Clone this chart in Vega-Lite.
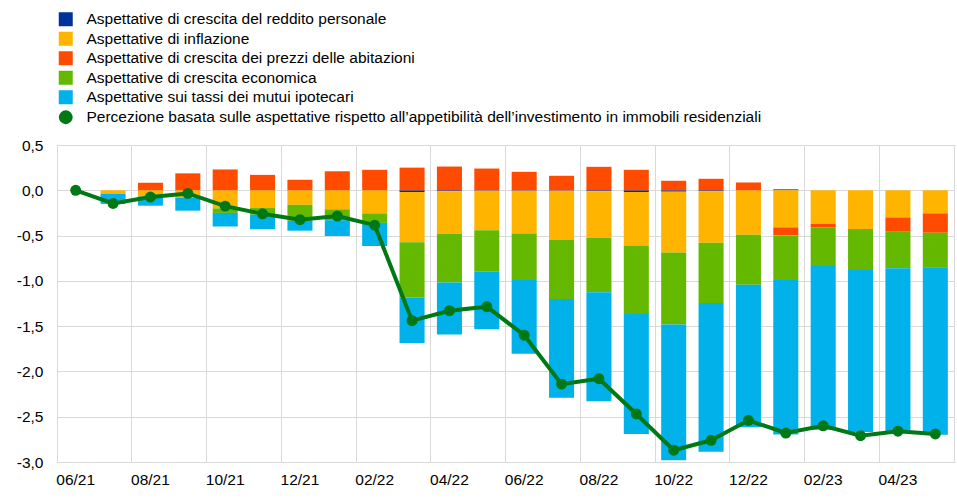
{
  "$schema": "https://vega.github.io/schema/vega-lite/v6.json",
  "width": 897,
  "height": 317,
  "autosize": {"type": "none"},
  "padding": {"left": 57, "top": 145, "right": 3, "bottom": 41},
  "background": "white",
  "config": {
    "view": {"stroke": "#d9d9d9", "strokeWidth": 1},
    "font": "Liberation Sans",
    "axis": {"labelFont": "Liberation Sans", "labelFontSize": 15.5, "labelColor": "#000000", "gridColor": "#d9d9d9", "gridWidth": 1, "ticks": false, "domain": false, "title": null},
    "legend": {"labelFont": "Liberation Sans", "labelFontSize": 15.5, "labelColor": "#000000", "labelLimit": 900}
  },
  "datasets": {
    "componenti": [
      {"mese": "06/21", "serie": "Aspettative di crescita del reddito personale", "ord": 1, "valore": 0},
      {"mese": "06/21", "serie": "Aspettative di inflazione", "ord": 2, "valore": 0},
      {"mese": "06/21", "serie": "Aspettative di crescita dei prezzi delle abitazioni", "ord": 3, "valore": 0},
      {"mese": "06/21", "serie": "Aspettative di crescita economica", "ord": 4, "valore": 0},
      {"mese": "06/21", "serie": "Aspettative sui tassi dei mutui ipotecari", "ord": 5, "valore": 0},
      {"mese": "07/21", "serie": "Aspettative di crescita del reddito personale", "ord": 1, "valore": 0},
      {"mese": "07/21", "serie": "Aspettative di inflazione", "ord": 2, "valore": -0.04},
      {"mese": "07/21", "serie": "Aspettative di crescita dei prezzi delle abitazioni", "ord": 3, "valore": 0},
      {"mese": "07/21", "serie": "Aspettative di crescita economica", "ord": 4, "valore": 0},
      {"mese": "07/21", "serie": "Aspettative sui tassi dei mutui ipotecari", "ord": 5, "valore": -0.11},
      {"mese": "08/21", "serie": "Aspettative di crescita del reddito personale", "ord": 1, "valore": 0},
      {"mese": "08/21", "serie": "Aspettative di inflazione", "ord": 2, "valore": -0.07},
      {"mese": "08/21", "serie": "Aspettative di crescita dei prezzi delle abitazioni", "ord": 3, "valore": 0.083},
      {"mese": "08/21", "serie": "Aspettative di crescita economica", "ord": 4, "valore": 0},
      {"mese": "08/21", "serie": "Aspettative sui tassi dei mutui ipotecari", "ord": 5, "valore": -0.1},
      {"mese": "09/21", "serie": "Aspettative di crescita del reddito personale", "ord": 1, "valore": 0},
      {"mese": "09/21", "serie": "Aspettative di inflazione", "ord": 2, "valore": -0.08},
      {"mese": "09/21", "serie": "Aspettative di crescita dei prezzi delle abitazioni", "ord": 3, "valore": 0.185},
      {"mese": "09/21", "serie": "Aspettative di crescita economica", "ord": 4, "valore": 0.005},
      {"mese": "09/21", "serie": "Aspettative sui tassi dei mutui ipotecari", "ord": 5, "valore": -0.145},
      {"mese": "10/21", "serie": "Aspettative di crescita del reddito personale", "ord": 1, "valore": 0},
      {"mese": "10/21", "serie": "Aspettative di inflazione", "ord": 2, "valore": -0.2},
      {"mese": "10/21", "serie": "Aspettative di crescita dei prezzi delle abitazioni", "ord": 3, "valore": 0.23},
      {"mese": "10/21", "serie": "Aspettative di crescita economica", "ord": 4, "valore": -0.05},
      {"mese": "10/21", "serie": "Aspettative sui tassi dei mutui ipotecari", "ord": 5, "valore": -0.15},
      {"mese": "11/21", "serie": "Aspettative di crescita del reddito personale", "ord": 1, "valore": 0},
      {"mese": "11/21", "serie": "Aspettative di inflazione", "ord": 2, "valore": -0.196},
      {"mese": "11/21", "serie": "Aspettative di crescita dei prezzi delle abitazioni", "ord": 3, "valore": 0.17},
      {"mese": "11/21", "serie": "Aspettative di crescita economica", "ord": 4, "valore": -0.074},
      {"mese": "11/21", "serie": "Aspettative sui tassi dei mutui ipotecari", "ord": 5, "valore": -0.16},
      {"mese": "12/21", "serie": "Aspettative di crescita del reddito personale", "ord": 1, "valore": 0},
      {"mese": "12/21", "serie": "Aspettative di inflazione", "ord": 2, "valore": -0.16},
      {"mese": "12/21", "serie": "Aspettative di crescita dei prezzi delle abitazioni", "ord": 3, "valore": 0.116},
      {"mese": "12/21", "serie": "Aspettative di crescita economica", "ord": 4, "valore": -0.176},
      {"mese": "12/21", "serie": "Aspettative sui tassi dei mutui ipotecari", "ord": 5, "valore": -0.11},
      {"mese": "01/22", "serie": "Aspettative di crescita del reddito personale", "ord": 1, "valore": 0},
      {"mese": "01/22", "serie": "Aspettative di inflazione", "ord": 2, "valore": -0.21},
      {"mese": "01/22", "serie": "Aspettative di crescita dei prezzi delle abitazioni", "ord": 3, "valore": 0.21},
      {"mese": "01/22", "serie": "Aspettative di crescita economica", "ord": 4, "valore": -0.12},
      {"mese": "01/22", "serie": "Aspettative sui tassi dei mutui ipotecari", "ord": 5, "valore": -0.175},
      {"mese": "02/22", "serie": "Aspettative di crescita del reddito personale", "ord": 1, "valore": 0},
      {"mese": "02/22", "serie": "Aspettative di inflazione", "ord": 2, "valore": -0.255},
      {"mese": "02/22", "serie": "Aspettative di crescita dei prezzi delle abitazioni", "ord": 3, "valore": 0.226},
      {"mese": "02/22", "serie": "Aspettative di crescita economica", "ord": 4, "valore": -0.105},
      {"mese": "02/22", "serie": "Aspettative sui tassi dei mutui ipotecari", "ord": 5, "valore": -0.255},
      {"mese": "03/22", "serie": "Aspettative di crescita del reddito personale", "ord": 1, "valore": -0.02},
      {"mese": "03/22", "serie": "Aspettative di inflazione", "ord": 2, "valore": -0.555},
      {"mese": "03/22", "serie": "Aspettative di crescita dei prezzi delle abitazioni", "ord": 3, "valore": 0.25},
      {"mese": "03/22", "serie": "Aspettative di crescita economica", "ord": 4, "valore": -0.61},
      {"mese": "03/22", "serie": "Aspettative sui tassi dei mutui ipotecari", "ord": 5, "valore": -0.5},
      {"mese": "04/22", "serie": "Aspettative di crescita del reddito personale", "ord": 1, "valore": -0.01},
      {"mese": "04/22", "serie": "Aspettative di inflazione", "ord": 2, "valore": -0.473},
      {"mese": "04/22", "serie": "Aspettative di crescita dei prezzi delle abitazioni", "ord": 3, "valore": 0.262},
      {"mese": "04/22", "serie": "Aspettative di crescita economica", "ord": 4, "valore": -0.535},
      {"mese": "04/22", "serie": "Aspettative sui tassi dei mutui ipotecari", "ord": 5, "valore": -0.575},
      {"mese": "05/22", "serie": "Aspettative di crescita del reddito personale", "ord": 1, "valore": -0.005},
      {"mese": "05/22", "serie": "Aspettative di inflazione", "ord": 2, "valore": -0.435},
      {"mese": "05/22", "serie": "Aspettative di crescita dei prezzi delle abitazioni", "ord": 3, "valore": 0.24},
      {"mese": "05/22", "serie": "Aspettative di crescita economica", "ord": 4, "valore": -0.46},
      {"mese": "05/22", "serie": "Aspettative sui tassi dei mutui ipotecari", "ord": 5, "valore": -0.635},
      {"mese": "06/22", "serie": "Aspettative di crescita del reddito personale", "ord": 1, "valore": -0.005},
      {"mese": "06/22", "serie": "Aspettative di inflazione", "ord": 2, "valore": -0.471},
      {"mese": "06/22", "serie": "Aspettative di crescita dei prezzi delle abitazioni", "ord": 3, "valore": 0.204},
      {"mese": "06/22", "serie": "Aspettative di crescita economica", "ord": 4, "valore": -0.514},
      {"mese": "06/22", "serie": "Aspettative sui tassi dei mutui ipotecari", "ord": 5, "valore": -0.816},
      {"mese": "07/22", "serie": "Aspettative di crescita del reddito personale", "ord": 1, "valore": -0.005},
      {"mese": "07/22", "serie": "Aspettative di inflazione", "ord": 2, "valore": -0.545},
      {"mese": "07/22", "serie": "Aspettative di crescita dei prezzi delle abitazioni", "ord": 3, "valore": 0.16},
      {"mese": "07/22", "serie": "Aspettative di crescita economica", "ord": 4, "valore": -0.65},
      {"mese": "07/22", "serie": "Aspettative sui tassi dei mutui ipotecari", "ord": 5, "valore": -1.09},
      {"mese": "08/22", "serie": "Aspettative di crescita del reddito personale", "ord": 1, "valore": -0.01},
      {"mese": "08/22", "serie": "Aspettative di inflazione", "ord": 2, "valore": -0.517},
      {"mese": "08/22", "serie": "Aspettative di crescita dei prezzi delle abitazioni", "ord": 3, "valore": 0.259},
      {"mese": "08/22", "serie": "Aspettative di crescita economica", "ord": 4, "valore": -0.6},
      {"mese": "08/22", "serie": "Aspettative sui tassi dei mutui ipotecari", "ord": 5, "valore": -1.203},
      {"mese": "09/22", "serie": "Aspettative di crescita del reddito personale", "ord": 1, "valore": -0.02},
      {"mese": "09/22", "serie": "Aspettative di inflazione", "ord": 2, "valore": -0.59},
      {"mese": "09/22", "serie": "Aspettative di crescita dei prezzi delle abitazioni", "ord": 3, "valore": 0.226},
      {"mese": "09/22", "serie": "Aspettative di crescita economica", "ord": 4, "valore": -0.755},
      {"mese": "09/22", "serie": "Aspettative sui tassi dei mutui ipotecari", "ord": 5, "valore": -1.325},
      {"mese": "10/22", "serie": "Aspettative di crescita del reddito personale", "ord": 1, "valore": -0.015},
      {"mese": "10/22", "serie": "Aspettative di inflazione", "ord": 2, "valore": -0.671},
      {"mese": "10/22", "serie": "Aspettative di crescita dei prezzi delle abitazioni", "ord": 3, "valore": 0.105},
      {"mese": "10/22", "serie": "Aspettative di crescita economica", "ord": 4, "valore": -0.797},
      {"mese": "10/22", "serie": "Aspettative sui tassi dei mutui ipotecari", "ord": 5, "valore": -1.497},
      {"mese": "11/22", "serie": "Aspettative di crescita del reddito personale", "ord": 1, "valore": -0.01},
      {"mese": "11/22", "serie": "Aspettative di inflazione", "ord": 2, "valore": -0.57},
      {"mese": "11/22", "serie": "Aspettative di crescita dei prezzi delle abitazioni", "ord": 3, "valore": 0.127},
      {"mese": "11/22", "serie": "Aspettative di crescita economica", "ord": 4, "valore": -0.664},
      {"mese": "11/22", "serie": "Aspettative sui tassi dei mutui ipotecari", "ord": 5, "valore": -1.643},
      {"mese": "12/22", "serie": "Aspettative di crescita del reddito personale", "ord": 1, "valore": 0},
      {"mese": "12/22", "serie": "Aspettative di inflazione", "ord": 2, "valore": -0.49},
      {"mese": "12/22", "serie": "Aspettative di crescita dei prezzi delle abitazioni", "ord": 3, "valore": 0.086},
      {"mese": "12/22", "serie": "Aspettative di crescita economica", "ord": 4, "valore": -0.552},
      {"mese": "12/22", "serie": "Aspettative sui tassi dei mutui ipotecari", "ord": 5, "valore": -1.573},
      {"mese": "01/23", "serie": "Aspettative di crescita del reddito personale", "ord": 1, "valore": 0.01},
      {"mese": "01/23", "serie": "Aspettative di inflazione", "ord": 2, "valore": -0.41},
      {"mese": "01/23", "serie": "Aspettative di crescita dei prezzi delle abitazioni", "ord": 3, "valore": -0.088},
      {"mese": "01/23", "serie": "Aspettative di crescita economica", "ord": 4, "valore": -0.492},
      {"mese": "01/23", "serie": "Aspettative sui tassi dei mutui ipotecari", "ord": 5, "valore": -1.706},
      {"mese": "02/23", "serie": "Aspettative di crescita del reddito personale", "ord": 1, "valore": 0},
      {"mese": "02/23", "serie": "Aspettative di inflazione", "ord": 2, "valore": -0.37},
      {"mese": "02/23", "serie": "Aspettative di crescita dei prezzi delle abitazioni", "ord": 3, "valore": -0.043},
      {"mese": "02/23", "serie": "Aspettative di crescita economica", "ord": 4, "valore": -0.423},
      {"mese": "02/23", "serie": "Aspettative sui tassi dei mutui ipotecari", "ord": 5, "valore": -1.808},
      {"mese": "03/23", "serie": "Aspettative di crescita del reddito personale", "ord": 1, "valore": 0},
      {"mese": "03/23", "serie": "Aspettative di inflazione", "ord": 2, "valore": -0.428},
      {"mese": "03/23", "serie": "Aspettative di crescita dei prezzi delle abitazioni", "ord": 3, "valore": 0},
      {"mese": "03/23", "serie": "Aspettative di crescita economica", "ord": 4, "valore": -0.452},
      {"mese": "03/23", "serie": "Aspettative sui tassi dei mutui ipotecari", "ord": 5, "valore": -1.79},
      {"mese": "04/23", "serie": "Aspettative di crescita del reddito personale", "ord": 1, "valore": 0},
      {"mese": "04/23", "serie": "Aspettative di inflazione", "ord": 2, "valore": -0.3},
      {"mese": "04/23", "serie": "Aspettative di crescita dei prezzi delle abitazioni", "ord": 3, "valore": -0.158},
      {"mese": "04/23", "serie": "Aspettative di crescita economica", "ord": 4, "valore": -0.404},
      {"mese": "04/23", "serie": "Aspettative sui tassi dei mutui ipotecari", "ord": 5, "valore": -1.808},
      {"mese": "05/23", "serie": "Aspettative di crescita del reddito personale", "ord": 1, "valore": 0},
      {"mese": "05/23", "serie": "Aspettative di inflazione", "ord": 2, "valore": -0.255},
      {"mese": "05/23", "serie": "Aspettative di crescita dei prezzi delle abitazioni", "ord": 3, "valore": -0.214},
      {"mese": "05/23", "serie": "Aspettative di crescita economica", "ord": 4, "valore": -0.382},
      {"mese": "05/23", "serie": "Aspettative sui tassi dei mutui ipotecari", "ord": 5, "valore": -1.849}
    ],
    "percezione": [
      {"mese": "06/21", "serie": "Percezione basata sulle aspettative rispetto all’appetibilità dell’investimento in immobili residenziali", "valore": 0},
      {"mese": "07/21", "serie": "Percezione basata sulle aspettative rispetto all’appetibilità dell’investimento in immobili residenziali", "valore": -0.145},
      {"mese": "08/21", "serie": "Percezione basata sulle aspettative rispetto all’appetibilità dell’investimento in immobili residenziali", "valore": -0.075},
      {"mese": "09/21", "serie": "Percezione basata sulle aspettative rispetto all’appetibilità dell’investimento in immobili residenziali", "valore": -0.035},
      {"mese": "10/21", "serie": "Percezione basata sulle aspettative rispetto all’appetibilità dell’investimento in immobili residenziali", "valore": -0.175},
      {"mese": "11/21", "serie": "Percezione basata sulle aspettative rispetto all’appetibilità dell’investimento in immobili residenziali", "valore": -0.26},
      {"mese": "12/21", "serie": "Percezione basata sulle aspettative rispetto all’appetibilità dell’investimento in immobili residenziali", "valore": -0.325},
      {"mese": "01/22", "serie": "Percezione basata sulle aspettative rispetto all’appetibilità dell’investimento in immobili residenziali", "valore": -0.285},
      {"mese": "02/22", "serie": "Percezione basata sulle aspettative rispetto all’appetibilità dell’investimento in immobili residenziali", "valore": -0.385},
      {"mese": "03/22", "serie": "Percezione basata sulle aspettative rispetto all’appetibilità dell’investimento in immobili residenziali", "valore": -1.44},
      {"mese": "04/22", "serie": "Percezione basata sulle aspettative rispetto all’appetibilità dell’investimento in immobili residenziali", "valore": -1.33},
      {"mese": "05/22", "serie": "Percezione basata sulle aspettative rispetto all’appetibilità dell’investimento in immobili residenziali", "valore": -1.285},
      {"mese": "06/22", "serie": "Percezione basata sulle aspettative rispetto all’appetibilità dell’investimento in immobili residenziali", "valore": -1.6},
      {"mese": "07/22", "serie": "Percezione basata sulle aspettative rispetto all’appetibilità dell’investimento in immobili residenziali", "valore": -2.14},
      {"mese": "08/22", "serie": "Percezione basata sulle aspettative rispetto all’appetibilità dell’investimento in immobili residenziali", "valore": -2.08},
      {"mese": "09/22", "serie": "Percezione basata sulle aspettative rispetto all’appetibilità dell’investimento in immobili residenziali", "valore": -2.47},
      {"mese": "10/22", "serie": "Percezione basata sulle aspettative rispetto all’appetibilità dell’investimento in immobili residenziali", "valore": -2.87},
      {"mese": "11/22", "serie": "Percezione basata sulle aspettative rispetto all’appetibilità dell’investimento in immobili residenziali", "valore": -2.76},
      {"mese": "12/22", "serie": "Percezione basata sulle aspettative rispetto all’appetibilità dell’investimento in immobili residenziali", "valore": -2.54},
      {"mese": "01/23", "serie": "Percezione basata sulle aspettative rispetto all’appetibilità dell’investimento in immobili residenziali", "valore": -2.68},
      {"mese": "02/23", "serie": "Percezione basata sulle aspettative rispetto all’appetibilità dell’investimento in immobili residenziali", "valore": -2.6},
      {"mese": "03/23", "serie": "Percezione basata sulle aspettative rispetto all’appetibilità dell’investimento in immobili residenziali", "valore": -2.71},
      {"mese": "04/23", "serie": "Percezione basata sulle aspettative rispetto all’appetibilità dell’investimento in immobili residenziali", "valore": -2.66},
      {"mese": "05/23", "serie": "Percezione basata sulle aspettative rispetto all’appetibilità dell’investimento in immobili residenziali", "valore": -2.69}
    ]
  },
  "layer": [
    {
      "data": {"name": "componenti"},
      "mark": {"type": "bar", "width": {"band": 0.67}},
      "encoding": {
        "x": {
          "field": "mese", "type": "ordinal", "sort": null,
          "scale": {"domain": ["06/21","07/21","08/21","09/21","10/21","11/21","12/21","01/22","02/22","03/22","04/22","05/22","06/22","07/22","08/22","09/22","10/22","11/22","12/22","01/23","02/23","03/23","04/23","05/23"], "paddingInner": 0, "paddingOuter": 0},
          "axis": {"values": ["06/21","08/21","10/21","12/21","02/22","04/22","06/22","08/22","10/22","12/22","02/23","04/23"], "grid": false, "labelAngle": 0, "labelPadding": 10, "title": null, "zindex": 1}
        },
        "y": {
          "field": "valore", "type": "quantitative", "stack": "zero",
          "scale": {"domain": [-3, 0.5], "nice": false},
          "axis": {"values": [-3, -2.5, -2, -1.5, -1, -0.5, 0, 0.5], "grid": true, "labelPadding": 14, "title": null, "labelExpr": "replace(replace(format(datum.value, '.1f'), '.', ','), '−', '-')", "zindex": 0}
        },
        "color": {
          "field": "serie", "type": "nominal",
          "scale": {
            "domain": ["Aspettative di crescita del reddito personale", "Aspettative di inflazione", "Aspettative di crescita dei prezzi delle abitazioni", "Aspettative di crescita economica", "Aspettative sui tassi dei mutui ipotecari"],
            "range": ["#003299", "#FFB400", "#FF4B00", "#65B800", "#00B1EA"]
          },
          "legend": {"orient": "none", "legendX": 1, "legendY": -133.5, "title": null, "symbolType": "square", "symbolSize": 196, "symbolStrokeWidth": 0, "labelOffset": 13, "rowPadding": 2.5, "padding": 0}
        },
        "order": {"field": "ord", "type": "quantitative"}
      }
    },
    {
      "data": {"name": "percezione"},
      "mark": {"type": "line", "color": "#007816", "strokeWidth": 4},
      "encoding": {
        "x": {"field": "mese", "type": "ordinal", "sort": null, "axis": {"bandPosition": 0, "values": ["06/21","08/21","10/21","12/21","02/22","04/22","06/22","08/22","10/22","12/22","02/23","04/23"], "grid": true, "labels": false, "ticks": false, "domain": false, "title": null, "zindex": 0}},
        "y": {"field": "valore", "type": "quantitative"}
      }
    },
    {
      "data": {"name": "percezione"},
      "mark": {"type": "point", "filled": true, "size": 120, "opacity": 1},
      "encoding": {
        "x": {"field": "mese", "type": "ordinal", "sort": null, "axis": null},
        "y": {"field": "valore", "type": "quantitative"},
        "fill": {
          "field": "serie", "type": "nominal",
          "scale": {"range": ["#007816"]},
          "legend": {"orient": "none", "legendX": 1, "legendY": -35.5, "title": null, "symbolType": "circle", "symbolSize": 190, "symbolStrokeWidth": 0, "labelOffset": 13, "padding": 0}
        }
      }
    }
  ],
  "resolve": {"axis": {"x": "independent"}}
}
